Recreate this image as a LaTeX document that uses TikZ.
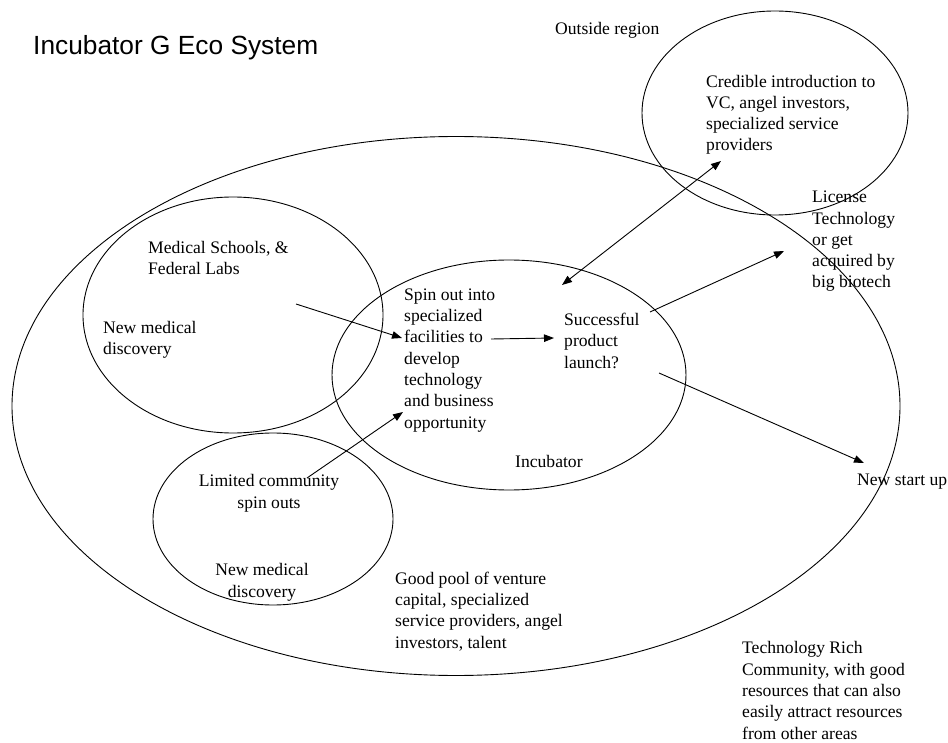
\documentclass[tikz,border=0pt]{standalone}
\usepackage{fontspec}
\setmainfont{Liberation Serif}
\newfontfamily\titlefont{Liberation Sans}
\usetikzlibrary{shapes.geometric,arrows.meta}
\begin{document}
\begin{tikzpicture}[x=1pt,y=-1pt,
  region/.style={draw, ellipse, line width=0.9pt, inner sep=0pt, outer sep=0pt},
  % text blocks are placed by the baseline of their last line
  txt/.style={anchor=base west, inner sep=0pt, align=left,
    font=\fontsize{17.6}{21.3}\selectfont},
  ctxt/.style={txt, anchor=base, align=center},
  tip/.tip={Triangle[length=10pt,width=7.5pt]},
  flow/.style={line width=0.9pt, -tip},
  twoway/.style={line width=0.9pt, tip-tip},
]
\useasboundingbox (0,0) rectangle (948,743);

% regions
\node[region, minimum width=888pt, minimum height=539pt] (community) at (456,406) {};
\node[region, minimum width=300pt, minimum height=236pt] (labs) at (233,315) {};
\node[region, minimum width=354pt, minimum height=230pt] (incubator) at (509,375) {};
\node[region, minimum width=240pt, minimum height=172pt] (spinouts) at (273,519) {};
\node[region, minimum width=266pt, minimum height=204pt] (outside) at (775,113) {};

% labels
\node[anchor=base west, inner sep=0pt, font=\titlefont\fontsize{26.3}{30}\selectfont]
  (title) at (33,55) {Incubator G Eco System};
\node[txt] (outsidelbl) at (555,35) {Outside region};
\node[txt] (credible) at (706,151) {Credible introduction to\\VC, angel investors,\\specialized service\\providers};
\node[txt] (license) at (812,288) {License\\Technology\\or get\\acquired by\\big biotech};
\node[txt] (medical) at (148,275) {Medical Schools, \&\\Federal Labs};
\node[txt] (discovery) at (103,355) {New medical\\discovery};
\node[txt] (spin) at (404,428) {Spin out into\\specialized\\facilities to\\develop\\technology\\and business\\opportunity};
\node[txt] (launch) at (564,368) {Successful\\product\\launch?};
\node[txt] (inclbl) at (515,467) {Incubator};
\node[ctxt] (limited) at (269,508) {Limited community\\spin outs};
\node[ctxt] (discovery2) at (262,597) {New medical\\discovery};
\node[txt] (pool) at (395,648) {Good pool of venture\\capital, specialized\\service providers, angel\\investors, talent};
\node[txt] (startup) at (857,485) {New start up};
\node[txt] (rich) at (742,739) {Technology Rich\\Community, with good\\resources that can also\\easily attract resources\\from other areas};

% connector ends
\coordinate (labsout) at (296,304);
\coordinate (spinin1) at (402,338);
\coordinate (limitedout) at (307,478);
\coordinate (spinin2) at (403,412);
\coordinate (spinout) at (491,339);
\coordinate (launchin) at (554,338);
\coordinate (launchtop) at (562,285);
\coordinate (crediblein) at (721,161);
\coordinate (launchright) at (650,312);
\coordinate (licensein) at (784,251);
\coordinate (launchlow) at (659,373);
\coordinate (startupin) at (864,463);

% flows
\draw[flow] (labsout) -- (spinin1);
\draw[flow] (limitedout) -- (spinin2);
\draw[flow] (spinout) -- (launchin);
\draw[twoway] (launchtop) -- (crediblein);
\draw[flow] (launchright) -- (licensein);
\draw[flow] (launchlow) -- (startupin);
\end{tikzpicture}
\end{document}
